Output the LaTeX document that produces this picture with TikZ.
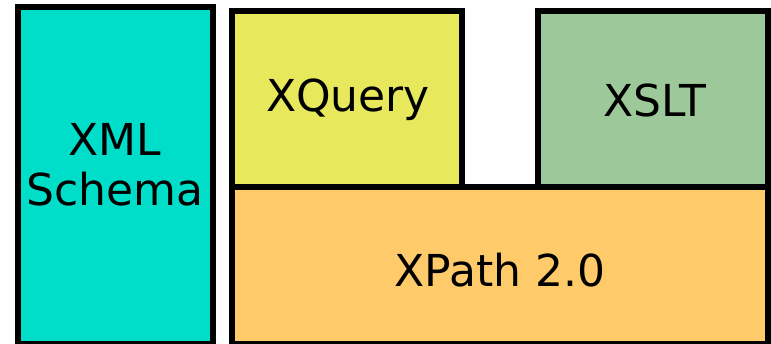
\documentclass[tikz,border=0pt]{standalone}
\usepackage{fontspec}
\setmainfont{DejaVu Sans}
\definecolor{cturq}{HTML}{00DECA}
\definecolor{cyel}{HTML}{E8E85C}
\definecolor{cgreen}{HTML}{9DC89A}
\definecolor{corange}{HTML}{FFCA69}
\tikzset{blk/.style={draw=black,line width=6pt},
 lbl/.style={font=\fontsize{44}{50}\selectfont,align=center,inner sep=0pt}}
\begin{document}
\begin{tikzpicture}[x=1pt,y=-1pt]
\useasboundingbox (0,0) rectangle (771,344);
\fill[white] (0,0) rectangle (771,344);
\draw[blk,fill=cturq] (18,7) rectangle (213,344);
\draw[blk,fill=cyel] (232,11) rectangle (462,187);
\draw[blk,fill=cgreen] (538,11) rectangle (768,187);
\draw[blk,fill=corange] (232,187) rectangle (768,344);
\node[lbl] (xml) at (115,165) {XML\\Schema};
\node[lbl] (xq) at (348,100) {XQuery};
\node[lbl] (xs) at (655,100) {XSLT};
\node[lbl] (xp) at (500,270) {XPath 2.0};
\end{tikzpicture}
\end{document}
